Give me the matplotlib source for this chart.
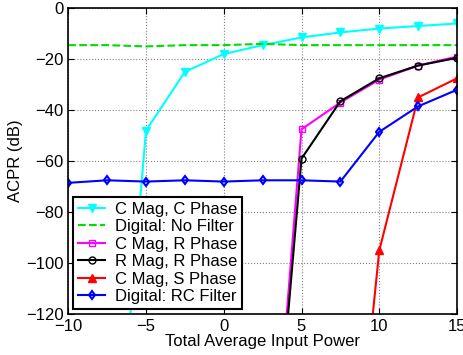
import numpy as np
import matplotlib
matplotlib.use("Agg")
import matplotlib.pyplot as plt

plt.rcParams['font.family'] = ['Liberation Sans', 'DejaVu Sans']

# data
x = [-10, -7.5, -5, -2.5, 0, 2.5, 5, 7.5, 10, 12.5, 15]
cmag_cphase = [None, -228, -48, -25, -18, -14.5, -11.5, -9.5, -8, -7, -6]
dig_nofilter = [-14.5, -14.5, -15, -14.5, -14.5, -14, -14.5, -14.5, -14.5, -14.5, -14.5]
cmag_rphase = [None, None, None, None, None, -238, -47.5, -37, -28, -22.5, -19]
rmag_rphase = [None, None, None, None, None, -236, -59, -36.5, -27.5, -22.5, -19.5]
cmag_sphase = [None, None, None, None, None, None, None, -245, -95, -35, -27.5]
dig_rc = [-68.5, -67.5, -68, -67.5, -68, -67.5, -67.5, -68, -48.5, -38.5, -32]

def clean(vals):
    return np.array([np.nan if v is None else v for v in vals], dtype=float)

fig = plt.figure(figsize=(4.64, 3.55), dpi=100)
ax = fig.add_axes([0.147, 0.115, 0.838, 0.862])

ax.plot(x, clean(cmag_cphase), color='cyan', marker='v', ms=5.5, lw=1.5, label='C Mag, C Phase')
ax.plot(x, clean(dig_nofilter), color='#00dd00', ls='--', lw=1.5, label='Digital: No Filter')
ax.plot(x, clean(cmag_rphase), color='magenta', marker='s', ms=4.5, mfc='none', lw=1.5, label='C Mag, R Phase')
ax.plot(x, clean(rmag_rphase), color='black', marker='o', ms=5, mfc='none', lw=1.5, label='R Mag, R Phase')
ax.plot(x, clean(cmag_sphase), color='red', marker='^', ms=5.5, lw=1.5, label='C Mag, S Phase')
ax.plot(x, clean(dig_rc), color='blue', marker='d', ms=4.5, mfc='none', mew=1.5, lw=1.5, label='Digital: RC Filter')

ax.set_xlim(-10, 15)
ax.set_ylim(-120, 0)
ax.set_xticks([-10, -5, 0, 5, 10, 15])
ax.set_yticks([-120, -100, -80, -60, -40, -20, 0])
ax.grid(True, ls=':', color='gray', lw=0.8)
ax.tick_params(direction='in', top=True, right=True, labelsize=12, length=4)
for s in ax.spines.values():
    s.set_linewidth(1.2)
ax.set_xlabel('Total Average Input Power', fontsize=12, labelpad=0)
ax.set_ylabel('ACPR (dB)', fontsize=12, labelpad=2)

leg = ax.legend(loc='lower left', fontsize=12, fancybox=False, framealpha=1,
                edgecolor='black', handlelength=1.6, borderpad=0.3,
                labelspacing=0.15, borderaxespad=0.3, handletextpad=0.6)
leg.get_frame().set_linewidth(1.5)

fig.savefig('out.png', dpi=100)
